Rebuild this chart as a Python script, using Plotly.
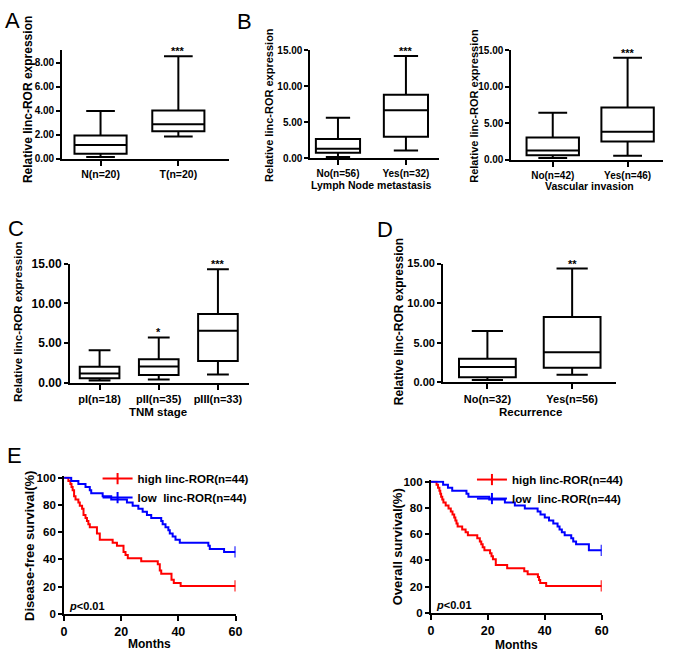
import plotly.graph_objects as go

W, H = 675, 659
FONT = "Liberation Sans, Arial, sans-serif"

# A: normal vs tumour tissue
a_cats = ["N(n=20)", "T(n=20)"]
a_low = [0.15, 1.85]
a_q1 = [0.42, 2.28]
a_med = [1.15, 2.88]
a_q3 = [1.93, 4.02]
a_high = [3.98, 8.55]
a_sig = ["", "***"]

# B (left): lymph node metastasis
b1_cats = ["No(n=56)", "Yes(n=32)"]
b1_low = [0.15, 1.05]
b1_q1 = [0.75, 2.95]
b1_med = [1.3, 6.65]
b1_q3 = [2.65, 8.8]
b1_high = [5.6, 14.2]
b1_sig = ["", "***"]

# B (right): vascular invasion
b2_cats = ["No(n=42)", "Yes(n=46)"]
b2_low = [0.22, 0.55]
b2_q1 = [0.6, 2.5]
b2_med = [1.25, 3.85]
b2_q3 = [3.05, 7.15]
b2_high = [6.45, 14.0]
b2_sig = ["", "***"]

# C: TNM stage
c_cats = ["pI(n=18)", "pII(n=35)", "pIII(n=33)"]
c_low = [0.25, 0.37, 1.03]
c_q1 = [0.55, 0.95, 2.72]
c_med = [1.15, 2.02, 6.55]
c_q3 = [1.98, 2.93, 8.65]
c_high = [4.08, 5.69, 14.3]
c_sig = ["", "*", "***"]

# D: recurrence
d_cats = ["No(n=32)", "Yes(n=56)"]
d_low = [0.29, 0.95]
d_q1 = [0.66, 1.86]
d_med = [1.94, 3.8]
d_q3 = [2.98, 8.26]
d_high = [6.49, 14.38]
d_sig = ["", "**"]

# E: Kaplan-Meier curves (event times in months, survival % after each step)
dfs_high_t = [1.5, 2.2, 2.6, 3.0, 3.5, 4.0, 5.0, 5.5, 6.3, 6.8, 7.5, 8.0, 8.5, 9.0,
              11.5, 12.5, 17.0, 18.5, 20.8, 21.5, 22.3, 27.0, 32.8, 33.5, 34.0,
              37.6, 38.4, 40.8]
dfs_high_s = [97.7, 95.5, 93.2, 90.9, 86.4, 84.1, 81.8, 79.5, 77.3, 72.7, 70.5, 68.2,
              65.9, 63.6, 59.1, 54.5, 52.3, 50.0, 45.5, 43.2, 40.9, 38.6, 36.4, 31.8,
              29.5, 25.0, 22.7, 20.5]
dfs_low_t = [2.5, 5.0, 7.5, 9.0, 9.5, 13.5, 16.5, 22.0, 24.0, 26.0, 27.5, 29.0, 30.5,
             34.0, 34.5, 35.5, 36.5, 37.0, 38.0, 39.0, 40.5, 50.5, 51.0, 56.0]
dfs_low_s = [97.7, 95.5, 93.2, 90.9, 88.6, 86.4, 84.1, 81.8, 79.5, 77.3, 75.0, 72.7,
             70.5, 68.2, 65.9, 63.6, 61.4, 59.1, 56.8, 54.5, 52.3, 50.0, 47.7, 45.5]
os_high_t = [2.0, 2.5, 3.0, 3.3, 3.6, 4.0, 4.4, 5.2, 6.2, 7.0, 7.6, 8.2, 8.6, 9.0, 9.4,
             11.0, 12.2, 13.0, 16.3, 17.2, 17.7, 18.2, 18.8, 20.8, 21.3, 21.8, 22.8,
             26.8, 32.8, 34.0, 37.6, 38.0, 38.4, 40.5]
os_high_s = [97.7, 95.5, 93.2, 90.9, 88.6, 86.4, 84.1, 81.8, 79.5, 77.3, 75.0, 72.7,
             70.5, 68.2, 65.9, 63.6, 61.4, 59.1, 56.8, 54.5, 52.3, 50.0, 47.7, 45.5,
             43.2, 40.9, 36.4, 34.1, 31.8, 29.5, 27.3, 25.0, 22.7, 20.5]
os_low_t = [4.3, 6.0, 7.5, 12.5, 13.2, 20.5, 26.0, 29.5, 33.0, 37.5, 38.5, 40.0, 41.5,
            43.0, 44.5, 45.2, 46.0, 47.0, 49.3, 50.0, 51.0, 55.5]
os_low_s = [97.7, 95.5, 93.2, 90.9, 88.6, 86.4, 84.1, 81.8, 79.5, 77.3, 75.0, 72.7,
            70.5, 68.2, 65.9, 63.6, 61.4, 59.1, 56.8, 54.5, 52.3, 47.7]
km_end = 60
km_ticks = [0, 20, 40, 60]
high_name = "high linc-ROR(n=44)"
low_name = "low&nbsp; linc-ROR(n=44)"


def px_x(p):
    return p / W


def px_y(p):
    return 1 - p / H


def bold(size):
    return dict(family=FONT, size=size, color="black", weight="bold")


fig = go.Figure()
annotations = []
axis_style = dict(showline=True, linecolor="black", linewidth=2, ticks="outside",
                  tickwidth=2, tickcolor="black", showgrid=False, zeroline=False,
                  fixedrange=True)


def add_box(n, cats, low, q1, med, q3, high, sig, xpx, ypx, xrange, yrange, dtick,
            xfont, yfont, box_w=0.67):
    xa, ya = f"x{n}", f"y{n}"
    fig.add_trace(go.Box(
        x=cats, q1=q1, median=med, q3=q3, lowerfence=low, upperfence=high,
        xaxis=xa, yaxis=ya, line=dict(color="black", width=2), fillcolor="white",
        whiskerwidth=0.55, width=box_w, boxpoints=False, showlegend=False,
        hoverinfo="skip"))
    fig.layout[f"xaxis{n}"] = dict(
        axis_style, type="category", range=xrange, anchor=ya, ticklen=5,
        domain=[px_x(xpx[0]), px_x(xpx[1])], tickfont=bold(xfont))
    fig.layout[f"yaxis{n}"] = dict(
        axis_style, range=yrange, anchor=xa, ticklen=4, dtick=dtick, tickformat=".2f",
        domain=[px_y(ypx[0]), px_y(ypx[1])], tickfont=bold(yfont))
    for c, h, s in zip(cats, high, sig):
        if s:
            annotations.append(dict(x=c, y=h, xref=xa, yref=ya, text=s, showarrow=False,
                                    yanchor="bottom", yshift=-3, font=bold(11)))


add_box(1, a_cats, a_low, a_q1, a_med, a_q3, a_high, a_sig, (60, 229), (155, 44),
        [-0.494, 1.646], [0, 9.06], 2, 10.5, 10)
add_box(2, b1_cats, b1_low, b1_q1, b1_med, b1_q3, b1_high, b1_sig, (312, 443),
        (154.3, 44.3), [-0.406, 1.493], [0, 15], 5, 10, 10, 0.65)
add_box(3, b2_cats, b2_low, b2_q1, b2_med, b2_q3, b2_high, b2_sig, (516, 670),
        (156, 44.3), [-0.553, 1.474], [0, 15], 5, 10, 10, 0.7)
add_box(4, c_cats, c_low, c_q1, c_med, c_q3, c_high, c_sig, (68, 250),
        (383.7, 262.3), [-0.5, 2.53], [0, 15], 5, 11, 12)
add_box(5, d_cats, d_low, d_q1, d_med, d_q3, d_high, d_sig, (446.7, 622),
        (383.5, 262.2), [-0.523, 1.515], [0, 15], 5, 11, 11)


def add_km(n, t, s, color, name, legend):
    xs = [0] + t + [km_end]
    ys = [100] + s + [s[-1]]
    # censor tick only on the last point
    fig.add_trace(go.Scatter(
        x=xs, y=ys, mode="lines+markers", line=dict(color=color, width=2, shape="hv"),
        marker=dict(symbol="line-ns-open", size=8, color=color,
                    line=dict(width=2, color=color)),
        selectedpoints=[len(xs) - 1], unselected=dict(marker=dict(opacity=0)),
        xaxis=f"x{n}", yaxis=f"y{n}", name=name, legend=legend, hoverinfo="skip"))


def km_axes(n, xpx, ypx):
    fig.layout[f"xaxis{n}"] = dict(
        axis_style, range=[0, km_end], anchor=f"y{n}", ticklen=5, tickvals=km_ticks,
        domain=[px_x(xpx[0]), px_x(xpx[1])], tickfont=bold(12.5))
    fig.layout[f"yaxis{n}"] = dict(
        axis_style, range=[0, 101], anchor=f"x{n}", ticklen=4, dtick=20,
        domain=[px_y(ypx[0]), px_y(ypx[1])], tickfont=bold(11.5))


add_km(6, dfs_high_t, dfs_high_s, "#ff0000", high_name, "legend")
add_km(6, dfs_low_t, dfs_low_s, "#0000ff", low_name, "legend")
add_km(7, os_high_t, os_high_s, "#ff0000", high_name, "legend2")
add_km(7, os_low_t, os_low_s, "#0000ff", low_name, "legend2")
km_axes(6, (62, 236), (620, 479.6))
km_axes(7, (434.3, 607.7), (619, 483.7))

legend_style = dict(xanchor="left", yanchor="top", font=bold(11.5), bgcolor="rgba(0,0,0,0)",
                    tracegroupgap=0, borderwidth=0)

# axis titles, panel letters and p-values
texts = [
    ("Relative linc-ROR expression", 25.5, 95, -90, 12),
    ("Relative linc-ROR expression", 270, 100, -90, 11),
    ("Lymph Node metastasis", 374, 182, 0, 10.5),
    ("Relative linc-ROR expression", 478, 101, -90, 11),
    ("Vascular invasion", 595, 183, 0, 10.5),
    ("Relative linc-ROR expression", 15, 322, -90, 11.5),
    ("TNM stage", 157, 414, 0, 11.5),
    ("Relative linc-ROR expression", 402, 322, -90, 12),
    ("Recurrence", 535, 414, 0, 11.5),
    ("Disease-free survival(%)", 27, 551, -90, 13),
    ("Months", 149, 651, 0, 12),
    ("Overall survival(%)", 400, 552, -90, 13),
    ("Months", 521, 652, 0, 12),
]
for txt, x, y, ang, size in texts:
    annotations.append(dict(text=txt, x=px_x(x), y=px_y(y), xref="paper", yref="paper",
                            showarrow=False, textangle=ang, font=bold(size),
                            xanchor="center", yanchor="middle"))

letters = [("A", 10, 14), ("B", 245, 15), ("C", 13, 226), ("D", 388, 227), ("E", 12, 458)]
for txt, x, y in letters:
    annotations.append(dict(text=txt, x=px_x(x), y=px_y(y), xref="paper", yref="paper",
                            showarrow=False, font=dict(family=FONT, size=22, color="black"),
                            xanchor="center", yanchor="middle"))

for x, y in [(65, 612), (437, 611)]:
    annotations.append(dict(text="<i>p</i>&lt;0.01", x=px_x(x), y=px_y(y), xref="paper",
                            yref="paper", showarrow=False, font=bold(11),
                            xanchor="left", yanchor="middle"))

fig.update_layout(
    width=W, height=H, margin=dict(l=0, r=0, t=0, b=0),
    paper_bgcolor="white", plot_bgcolor="white", showlegend=True,
    legend=dict(legend_style, x=px_x(96), y=px_y(467)),
    legend2=dict(legend_style, x=px_x(476), y=px_y(468)),
    annotations=annotations,
)

fig.write_html("out.html", config={"displayModeBar": False},
               post_script="document.body.style.margin='0';")
